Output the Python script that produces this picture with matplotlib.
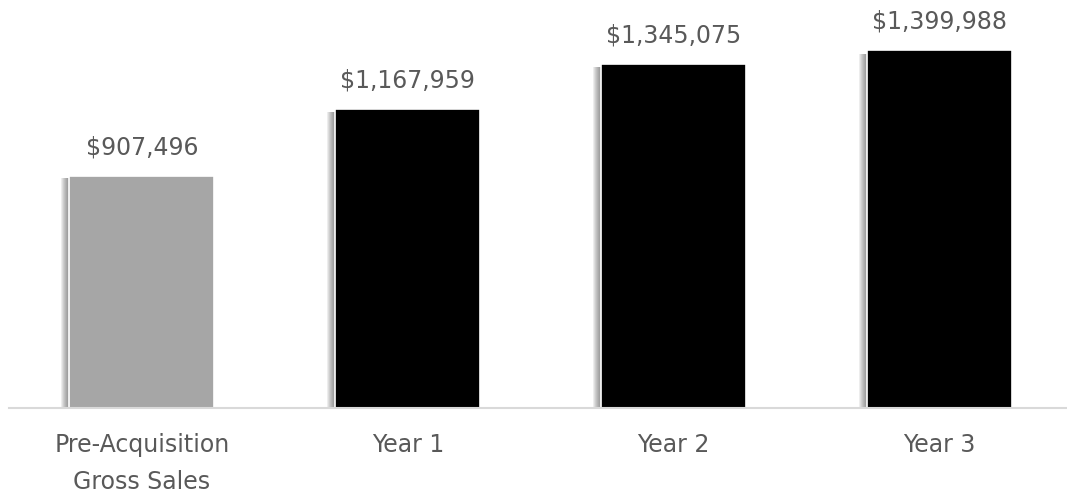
import matplotlib.pyplot as plt

# data
categories = ['Pre-Acquisition\nGross Sales', 'Year 1', 'Year 2', 'Year 3']
sales = [907496, 1167959, 1345075, 1399988]
colors = ['#a6a6a6', '#000000', '#000000', '#000000']

fig = plt.figure(figsize=(10.67, 4.98), dpi=100)
ax = fig.add_axes([9 / 1067, 90 / 498, 1058 / 1067, 408 / 498])

x = list(range(len(categories)))
width = 0.545
px = 1 / 266  # one pixel in data units along x

# soft shadow on the left of each bar
for k in range(1, 9):
    ax.bar([i - k * px for i in x], [v * 0.99 for v in sales], width=width,
           color='#404040', alpha=0.09, linewidth=0, zorder=1)

ax.bar(x, sales, width=width, color=colors, edgecolor='white', linewidth=1.2, zorder=2)

for i, v in zip(x, sales):
    ax.annotate(f'${v:,.0f}', (i, v), xytext=(0, 12), textcoords='offset points',
                ha='center', va='bottom', fontsize=17, color='#595959')

ax.set_xlim(-0.5, 3.48)
ax.set_ylim(0, 1595500)
ax.set_yticks([])
ax.set_xticks(x)
ax.set_xticklabels(categories, fontsize=17, color='#595959', linespacing=1.7)
ax.tick_params(axis='x', length=0, pad=18)
for s in ['top', 'left', 'right']:
    ax.spines[s].set_visible(False)
ax.spines['bottom'].set_color('#d9d9d9')
ax.spines['bottom'].set_linewidth(1.5)

plt.savefig('out.png', dpi=100)
